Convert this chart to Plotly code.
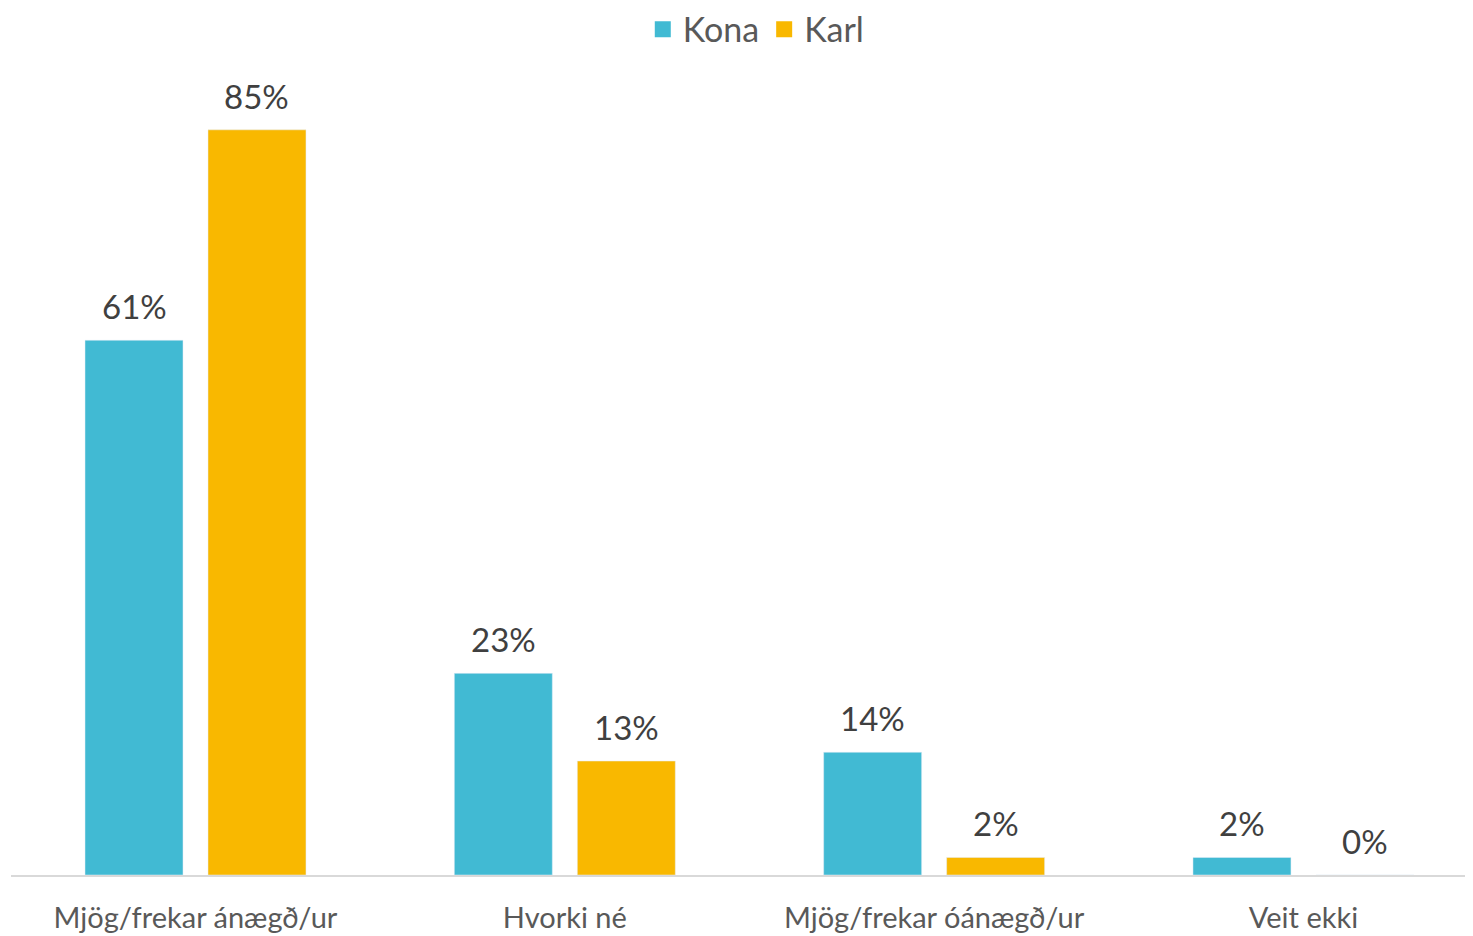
import plotly.graph_objects as go

categories = ["Mjög/frekar ánægð/ur", "Hvorki né", "Mjög/frekar óánægð/ur", "Veit ekki"]
series_names = ["Kona", "Karl"]
kona = [61, 23, 14, 2]
karl = [85, 13, 2, 0]
colors = ["#41BAD3", "#F9B800"]

FONT = "Lato"
BAR_W = 0.2653
OFFSETS = [-0.2992, 0.0338]

fig = go.Figure()
for name, vals, col, off in zip(series_names, [kona, karl], colors, OFFSETS):
    fig.add_trace(go.Bar(
        name=name, x=list(range(len(categories))), y=vals, marker_color=col,
        width=BAR_W, offset=off, showlegend=False,
    ))
    # legend proxy with larger square swatch
    fig.add_trace(go.Scatter(
        name=name, x=[None], y=[None], mode="markers",
        marker=dict(symbol="square", size=21, color=col), showlegend=True,
    ))
    for i, v in enumerate(vals):
        fig.add_annotation(
            x=i + off + BAR_W / 2, y=v, text=f"{v}%", showarrow=False,
            xanchor="center", yanchor="bottom", yshift=12,
            font=dict(family=FONT, size=33, color="#404040"),
        )

fig.update_layout(
    width=1473, height=936,
    margin=dict(l=3, r=8, t=78, b=69),
    paper_bgcolor="white", plot_bgcolor="white",
    barmode="overlay",
    font=dict(family=FONT, color="#595959"),
    legend=dict(orientation="h", x=0.508, xanchor="center", xref="container",
                y=0.977, yanchor="middle", yref="container",
                font=dict(family=FONT, size=34, color="#595959"),
                itemwidth=30, traceorder="normal", tracegroupgap=0,
                borderwidth=0),
    xaxis=dict(range=[-0.4996, 3.459], showline=True, linecolor="#D9D9D9", linewidth=2,
               tickmode="array", tickvals=list(range(len(categories))), ticktext=categories,
               ticks="", ticklabelstandoff=16,
               tickfont=dict(family=FONT, size=29, color="#595959"),
               showgrid=False, zeroline=False),
    yaxis=dict(range=[0, 90], visible=False, showgrid=False, zeroline=False),
)

fig.write_html("out.html")
